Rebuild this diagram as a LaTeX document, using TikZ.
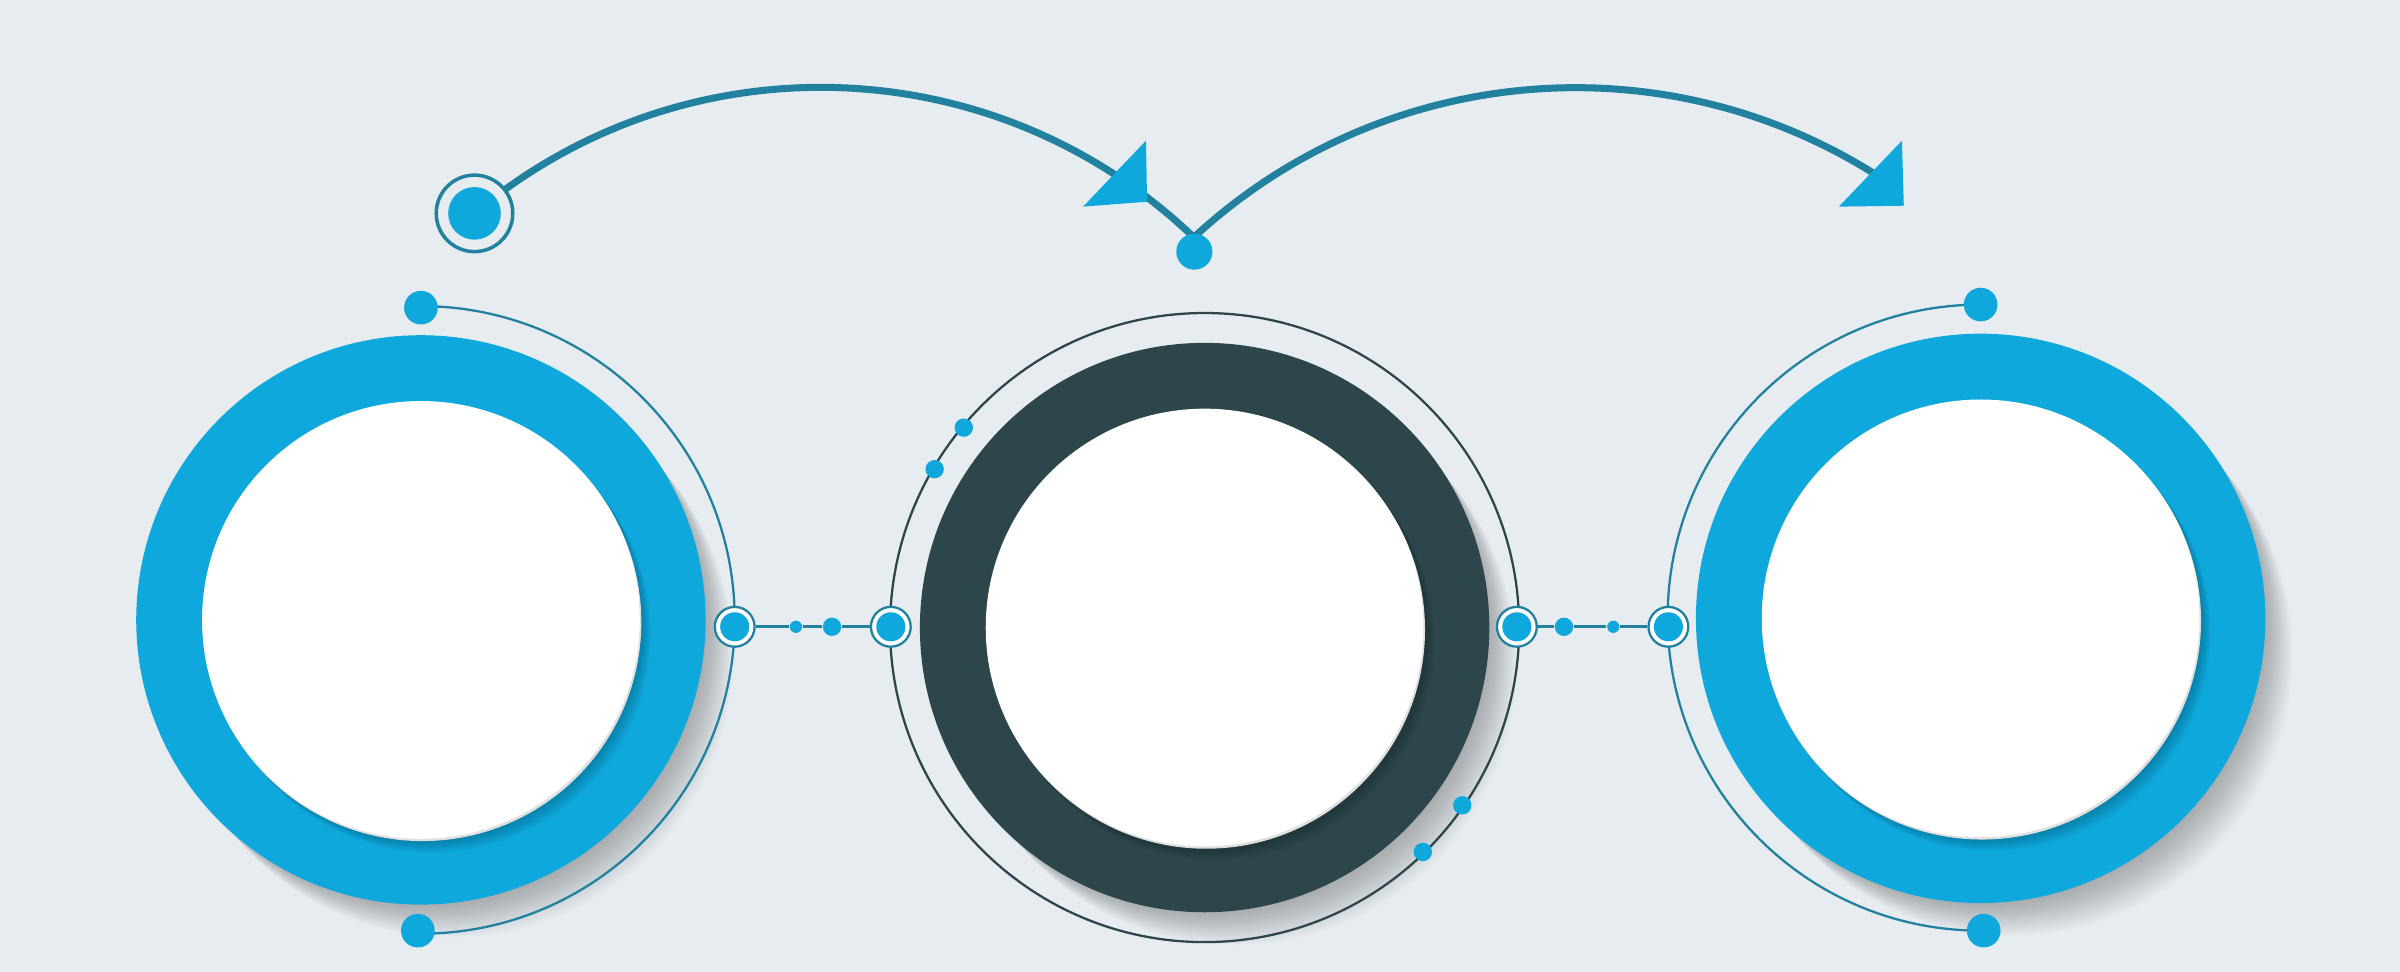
\documentclass[tikz,border=0pt]{standalone}
\usepackage{tikz}
\usetikzlibrary{calc}

\definecolor{bgcol}{HTML}{E6ECF0}
\definecolor{cblue}{HTML}{0FA8DC}
\definecolor{cteal}{HTML}{21819F}
\definecolor{cdark}{HTML}{2C464C}

\begin{document}
\begin{tikzpicture}[x=0.0153cm, y=0.0153cm,
    dot/.style={circle, fill=cblue, inner sep=0pt, minimum size=#1*0.0153cm},
    hubring/.style={circle, draw=cteal, line width=0.65pt, fill=white, inner sep=0pt, minimum size=26*0.0153cm},
    guide/.style={line width=0.65pt},
    link/.style={cteal, line width=0.75pt},
    flow/.style={cteal, line width=2pt}]

    % Background
    \fill[bgcol] (0,0) rectangle (1568,-635);

    % Centres of the three steps
    \coordinate (cA) at (275,-405);
    \coordinate (cB) at (787,-410);
    \coordinate (cC) at (1294,-404);

    % Big rings with their shadows
    \foreach \c/\clr in {cA/cblue, cB/cdark, cC/cblue} {
        \foreach \s in {1,...,18}
            \fill[black, opacity=0.014] ($(\c)+(1.1*\s,-1.3*\s)$) circle (184);
        \fill[\clr] (\c) circle (186);
        \begin{scope}
            \clip (\c) circle (186);
            \foreach \s in {1,...,9}
                \fill[black, opacity=0.028] ($(\c)+(0.8*\s,-1*\s)$) circle (143);
        \end{scope}
        \fill[gray!25] ($(\c)+(1,-1.5)$) circle (143);
        \fill[white] (\c) circle (143);
    }

    % Thin guide arcs
    \coordinate (topA) at (275,-200);
    \coordinate (topC) at (1294,-199);
    \draw[guide, cteal] (topA) arc[start angle=90, end angle=-90, radius=205];
    \draw[guide, cdark] (cB) circle (205.5);
    \draw[guide, cteal] (topC) arc[start angle=90, end angle=270, radius=204.5];

    % End dots of the guide arcs
    \node[dot=22] (dotAt) at (275,-201) {};
    \node[dot=22] (dotAb) at (273,-608) {};
    \node[dot=22] (dotCt) at (1294,-199) {};
    \node[dot=22] (dotCb) at (1296,-608) {};

    % Dots on the middle guide circle
    \foreach \a/\n in {140.3/b1, 149.6/b2, -34.6/b3, -45.8/b4}
        \node[dot=12] (\n) at ($(cB)+(\a:204.5)$) {};

    % Connector rings and links
    \node[hubring] (rA) at (480,-409.5) {};
    \node[hubring] (rB1) at (582,-409.5) {};
    \node[hubring] (rB2) at (991,-409.5) {};
    \node[hubring] (rC) at (1090,-409.5) {};
    \node[dot=8] (s1) at (520,-409.5) {};
    \node[dot=12] (s2) at (543.6,-409.5) {};
    \node[dot=12] (s3) at (1021.8,-409.5) {};
    \node[dot=8] (s4) at (1054,-409.5) {};
    \draw[link] (rA) -- (s1) -- (s2) -- (rB1);
    \draw[link] (rB2) -- (s3) -- (s4) -- (rC);
    \foreach \r in {rA, rB1, rB2, rC}
        \node[dot=19] (\r-in) at (\r) {};

    % Flow arcs at the top
    \coordinate (start) at (310,-139.4);
    \coordinate (join) at (780,-155);
    \draw[flow] (start) arc[start angle=130, end angle=46.2, radius=352];
    \draw[flow] (join) arc[start angle=132.8, end angle=57, radius=367];
    \node[circle, draw=cteal, line width=1pt, fill=bgcol, inner sep=0pt,
          minimum size=50*0.0153cm] (startring) at (start) {};
    \node[dot=34.4] (startdot) at (start) {};
    \node[dot=23.6] (hub) at (780.3,-164.4) {};

    % Arrow heads
    \fill[cblue] (748.7,-91.9) -- (749.4,-131.8) -- (707.6,-135) -- cycle;
    \fill[cblue] (1242.6,-91.9) -- (1243.8,-134.4) -- (1201.4,-135) -- cycle;

\end{tikzpicture}
\end{document}
